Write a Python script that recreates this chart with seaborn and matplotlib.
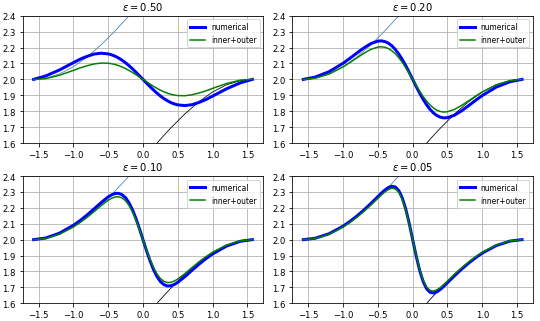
import matplotlib
matplotlib.use("Agg")
import matplotlib.pyplot as plt
import seaborn as sns
import numpy as np

# shared x positions
x = [-1.5708, -1.4, -1.2, -1.0, -0.9, -0.8, -0.7, -0.6, -0.5, -0.45, -0.4, -0.35,
     -0.3, -0.25, -0.2, -0.15, -0.1, -0.05, 0.0, 0.05, 0.1, 0.15, 0.2, 0.25, 0.3,
     0.35, 0.4, 0.45, 0.5, 0.6, 0.7, 0.8, 0.9, 1.0, 1.2, 1.4, 1.5708]

eps_values = [0.50, 0.20, 0.10, 0.05]

numerical_050 = [2.0, 2.0213, 2.0591, 2.1051, 2.1276, 2.1455, 2.1593, 2.1645, 2.1603, 2.1542,
                 2.1457, 2.1341, 2.1205, 2.1043, 2.0860, 2.0662, 2.0449, 2.0227, 2.0,
                 1.9773, 1.9551, 1.9338, 1.9140, 1.8957, 1.8795, 1.8659, 1.8543, 1.8458,
                 1.8397, 1.8355, 1.8407, 1.8545, 1.8724, 1.8949, 1.9409, 1.9787, 2.0]
composite_050 = [1.9991, 2.0047, 2.0258, 2.0565, 2.0727, 2.0860, 2.0972, 2.1026, 2.1017, 2.0985,
                 2.0935, 2.0866, 2.0780, 2.0677, 2.0559, 2.0432, 2.0293, 2.0148, 2.0,
                 1.9852, 1.9707, 1.9568, 1.9441, 1.9323, 1.9220, 1.9134, 1.9065, 1.9015,
                 1.8983, 1.8974, 1.9028, 1.9140, 1.9273, 1.9435, 1.9742, 1.9953, 2.0009]

numerical_020 = [2.0, 2.0145, 2.0485, 2.1011, 2.1328, 2.1662, 2.1983, 2.2251, 2.2405, 2.2421,
                 2.2379, 2.2279, 2.2114, 2.1886, 2.1597, 2.1253, 2.0864, 2.0442, 2.0,
                 1.9558, 1.9136, 1.8747, 1.8403, 1.8114, 1.7886, 1.7721, 1.7621, 1.7579,
                 1.7595, 1.7749, 1.8017, 1.8338, 1.8672, 1.8989, 1.9515, 1.9855, 2.0]
composite_020 = [2.0, 2.0073, 2.0339, 2.0785, 2.1061, 2.1356, 2.1643, 2.1886, 2.2031, 2.2051,
                 2.2021, 2.1940, 2.1803, 2.1612, 2.1365, 2.1073, 2.0739, 2.0378, 2.0,
                 1.9622, 1.9261, 1.8927, 1.8635, 1.8388, 1.8197, 1.8060, 1.7979, 1.7949,
                 1.7969, 1.8114, 1.8357, 1.8644, 1.8939, 1.9215, 1.9661, 1.9927, 2.0]

numerical_010 = [2.0, 2.0101, 2.0405, 2.0899, 2.1210, 2.1560, 2.1942, 2.2334, 2.2685, 2.2818,
                 2.2899, 2.2911, 2.2824, 2.2633, 2.2311, 2.1870, 2.1318, 2.0681, 2.0,
                 1.9319, 1.8682, 1.8130, 1.7689, 1.7367, 1.7176, 1.7089, 1.7101, 1.7182,
                 1.7315, 1.7666, 1.8058, 1.8440, 1.8790, 1.9101, 1.9595, 1.9899, 2.0]
composite_010 = [2.0, 2.0073, 2.034, 2.0793, 2.1083, 2.1411, 2.1770, 2.2141, 2.2475, 2.2602,
                 2.2682, 2.2697, 2.2618, 2.2444, 2.2146, 2.1737, 2.1225, 2.0633, 2.0,
                 1.9367, 1.8775, 1.8263, 1.7854, 1.7556, 1.7382, 1.7303, 1.7318, 1.7398,
                 1.7525, 1.7859, 1.8230, 1.8589, 1.8917, 1.9207, 1.9660, 1.9927, 2.0]

numerical_005 = [2.0, 2.0088, 2.0373, 2.0846, 2.1147, 2.1488, 2.1866, 2.2274, 2.2705, 2.2918,
                 2.3116, 2.3273, 2.3355, 2.3312, 2.3086, 2.2627, 2.1929, 2.1025, 2.0,
                 1.8975, 1.8071, 1.7373, 1.6914, 1.6688, 1.6645, 1.6727, 1.6884, 1.7082,
                 1.7295, 1.7726, 1.8134, 1.8512, 1.8853, 1.9154, 1.9627, 1.9912, 2.0]
composite_005 = [2.0, 2.0073, 2.034, 2.0793, 2.1083, 2.1413, 2.1779, 2.2176, 2.2595, 2.2803,
                 2.2996, 2.3149, 2.3231, 2.3191, 2.2974, 2.2534, 2.1860, 2.0988, 2.0,
                 1.9012, 1.8140, 1.7466, 1.7026, 1.6809, 1.6769, 1.6851, 1.7004, 1.7197,
                 1.7405, 1.7824, 1.8221, 1.8587, 1.8917, 1.9207, 1.9660, 1.9927, 2.0]

# outer solutions
x_outer_left = [-1.5708, -1.4, -1.2, -1.0, -0.8, -0.6, -0.4, -0.3, -0.2, -0.1, 0.0]
y_outer_left = [2.0, 2.0073, 2.034, 2.0793, 2.1413, 2.2177, 2.3053, 2.3523, 2.4007, 2.4501, 2.5]
x_outer_right = [0.0, 0.1, 0.2, 0.3, 0.4, 0.6, 0.8, 1.0, 1.2, 1.4, 1.5708]
y_outer_right = [1.5, 1.5499, 1.5993, 1.6478, 1.6947, 1.7823, 1.8587, 1.9207, 1.9660, 1.9927, 2.0]

numerical = [numerical_050, numerical_020, numerical_010, numerical_005]
composite = [composite_050, composite_020, composite_010, composite_005]

fig, axes = plt.subplots(2, 2, figsize=(7.5, 4.4722), dpi=72)
fig.subplots_adjust(left=0.042, right=0.987, top=0.948, bottom=0.055,
                    wspace=0.121, hspace=0.259)

for ax, eps, num, comp in zip(axes.flat, eps_values, numerical, composite):
    sns.lineplot(x=x_outer_left, y=y_outer_left, ax=ax, color="steelblue",
                 linewidth=0.8, sort=False)
    sns.lineplot(x=x_outer_right, y=y_outer_right, ax=ax, color="k",
                 linewidth=0.8, sort=False)
    sns.lineplot(x=x, y=num, ax=ax, color="b", linewidth=3, sort=False,
                 label="numerical")
    sns.lineplot(x=x, y=comp, ax=ax, color="g", linewidth=1.5, sort=False,
                 label="inner+outer")
    ax.set_ylim(1.6, 2.4)
    ax.set_xticks([-1.5, -1.0, -0.5, 0.0, 0.5, 1.0, 1.5])
    ax.set_yticks([1.6, 1.7, 1.8, 1.9, 2.0, 2.1, 2.2, 2.3, 2.4])
    ax.tick_params(labelsize=8.5)
    ax.grid(True)
    ax.set_title(r"$\varepsilon = %.2f$" % eps, fontsize=10)
    ax.legend(loc="upper right", fontsize=7.5)

fig.savefig("out.png", dpi=72)
